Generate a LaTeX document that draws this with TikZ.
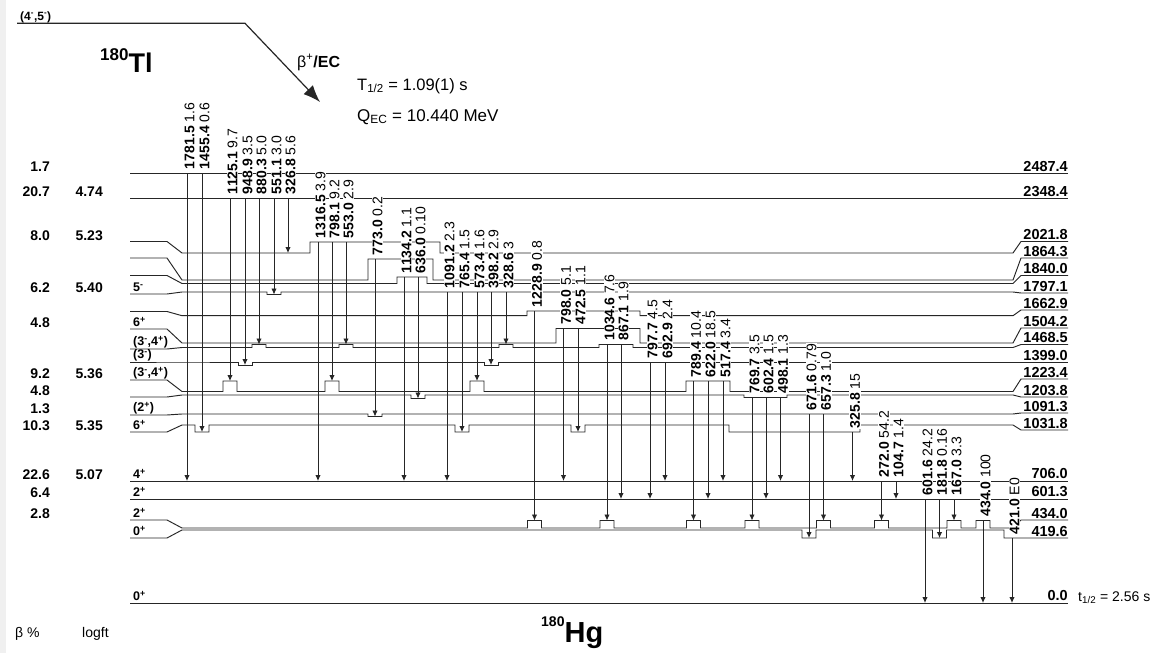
\documentclass[tikz,border=0pt]{standalone}
\usepackage{fontspec}
\setmainfont{Liberation Sans}
\newfontfamily\nar{Liberation Sans}
\usetikzlibrary{arrows.meta}
\newcommand\bmp[3]{-- (#1-7,#2) -- (#1-7,#3) -- (#1+7,#3) -- (#1+7,#2)}
\newcommand\pl{\textsuperscript{+}}
\newcommand\mi{\textsuperscript{-}}
\newcommand\gam[6]{%
  \coordinate (#1a) at (#2,#3);
  \coordinate (#1b) at (#2,#4);
  \node[glab] (#1t) at ([xshift=2.5pt,yshift=3pt]#1a) {\textbf{#5} #6};
  \draw[gline] (#1a) -- (#1b);
}
\begin{document}
\begin{tikzpicture}[x=1pt,y=-1pt,
  lev/.style={line width=0.95pt, draw=black!85},
  gline/.style={line width=0.95pt, draw=black!85, -{Latex[length=6pt,width=5.5pt]}},
  glab/.style={rotate=90, anchor=west, fill=white, inner sep=0.8pt, font=\nar\fontsize{14}{14}\selectfont},
  rlab/.style={anchor=base east, inner sep=0pt, font=\bfseries\fontsize{14.5}{14.5}\selectfont},
  bp/.style={anchor=base east, inner sep=0pt, font=\bfseries\fontsize{14}{14}\selectfont},
  sp/.style={anchor=base west, inner sep=0pt, font=\bfseries\fontsize{12.5}{12.5}\selectfont},
  txt/.style={anchor=base west, inner sep=0pt}]
\useasboundingbox (0,0) rectangle (1157,653);
\fill[white] (0,0) rectangle (1157,653);
\fill[gray!12] (0,0) rectangle (6,653);

% parent
\node[txt, font=\bfseries\fontsize{12}{12}\selectfont] (par) at (20,20) {(4\mi,5\mi)};
\coordinate (p0) at (17,23.3);
\coordinate (p1) at (245,23.3);
\coordinate (p2) at (320,102);
\draw[line width=1.2pt, black!85, -{Latex[length=17pt,width=13pt]}] (p0) -- (p1) -- (p2);
\node[txt] (tl) at (100,72.5) {\bfseries\fontsize{17}{17}\selectfont\raisebox{12pt}{180}\fontsize{27}{27}\selectfont Tl};
\node[txt, font=\fontsize{16}{16}\selectfont] (bec) at (297,67) {β\textsuperscript{+}\textbf{/EC}};
\node[txt, font=\fontsize{16.5}{16.5}\selectfont] (th) at (357,90) {T\textsubscript{1/2} = 1.09(1) s};
\node[txt, font=\fontsize{17}{17}\selectfont] (qec) at (357,121) {Q\textsubscript{EC} = 10.440 MeV};

% levels
\draw[lev] (130,173) -- (1068,173);
\draw[lev] (130,198) -- (1068,198);
\draw[lev] (130,241.5) -- (167,241.5) -- (182,253) -- (310,253) -- (310,242) -- (440,242) -- (440,253) -- (1013,253) -- (1021,241.5) -- (1068,241.5);
\draw[lev] (130,258) -- (167,258) -- (182,280) -- (368,280) -- (368,259) -- (433,259) -- (433,280) -- (1013,280) -- (1021,258) -- (1068,258);
\draw[lev] (130,275.5) -- (167,275.5) -- (182,283.5) -- (397,283.5) -- (397,277) -- (427,277) -- (427,283.5) -- (1013,283.5) -- (1021,275.5) -- (1068,275.5);
\draw[lev] (130,294) -- (167,294) -- (182,292) \bmp{274}{292}{294.5} -- (1013,292) -- (1021,293) -- (1068,293);
\draw[lev] (130,311.5) -- (167,311.5) -- (182,315.7) -- (527,315.7) -- (527,311) -- (640,311) -- (640,315.7) -- (1013,315.7) -- (1021,310) -- (1068,310);
\draw[lev] (130,329) -- (167,329) -- (182,343) -- (556,343) -- (556,328.5) -- (640,328.5) -- (640,343) -- (1013,343) -- (1021,328) -- (1068,328);
\draw[lev] (130,349) -- (167,349) -- (182,347.5) \bmp{259}{347.5}{344.5} \bmp{346}{347.5}{344.5} \bmp{506}{347.5}{344.5} -- (599,347.5) -- (599,344.5) -- (633,344.5) -- (633,347.5) -- (1013,347.5) -- (1021,344.5) -- (1068,344.5);
\draw[lev] (130,362) -- (182,362) \bmp{245}{362}{365} \bmp{491}{362}{365} -- (1068,362);
\draw[lev] (130,380) -- (167,380) -- (182,391.5) \bmp{230}{391.5}{381} \bmp{332}{391.5}{381} \bmp{477}{391.5}{381} -- (686,391.5) -- (686,381) -- (730,381) -- (730,391.5) -- (1013,391.5) -- (1021,379) -- (1068,379);
\draw[lev] (130,397) -- (167,397) -- (182,395) \bmp{418}{395}{398.5} -- (744,395) -- (744,397.5) -- (787,397.5) -- (787,395) -- (1013,395) -- (1021,397) -- (1068,397);
\draw[lev] (130,415) -- (167,415) -- (182,414) \bmp{375}{414}{416.5} -- (1013,414) -- (1021,413) -- (1068,413);
\draw[lev] (130,432) -- (167,432) -- (182,425) \bmp{202}{425}{432} \bmp{462}{425}{432} \bmp{578}{425}{432} -- (729,425) -- (729,432) -- (860,432) -- (860,425) -- (1013,425) -- (1021,430) -- (1068,430);
\draw[lev] (130,481) -- (1068,481);
\draw[lev] (130,499) -- (1068,499);
\draw[lev] (130,520) -- (167,520) -- (182,528) \bmp{534.5}{528}{520.5} \bmp{607}{528}{520.5} \bmp{693.5}{528}{520.5} \bmp{752}{528}{520.5} \bmp{823.5}{528}{520.5} \bmp{881.5}{528}{520.5} \bmp{954}{528}{520.5} \bmp{983}{528}{520.5} -- (1013,528) -- (1021,520) -- (1068,520);
\draw[lev] (130,538) -- (167,538) -- (182,530) \bmp{809}{530}{538} \bmp{939.5}{530}{538} -- (1004,530) -- (1004,538) -- (1068,538);
\draw[lev] (130,603) -- (1068,603);

% right energy labels
\node[rlab] (e1) at (1068,171) {2487.4};
\node[rlab] (e2) at (1068,196) {2348.4};
\node[rlab] (e3) at (1068,239.5) {2021.8};
\node[rlab] (e4) at (1068,256) {1864.3};
\node[rlab] (e5) at (1068,273.5) {1840.0};
\node[rlab] (e6) at (1068,291) {1797.1};
\node[rlab] (e7) at (1068,308) {1662.9};
\node[rlab] (e8) at (1068,326) {1504.2};
\node[rlab] (e9) at (1068,342.5) {1468.5};
\node[rlab] (e10) at (1068,360) {1399.0};
\node[rlab] (e11) at (1068,377) {1223.4};
\node[rlab] (e12) at (1068,395) {1203.8};
\node[rlab] (e13) at (1068,411) {1091.3};
\node[rlab] (e14) at (1068,428) {1031.8};
\node[rlab] (e15) at (1068,478.5) {706.0};
\node[rlab] (e16) at (1068,496.5) {601.3};
\node[rlab] (e17) at (1068,518) {434.0};
\node[rlab] (e18) at (1068,536) {419.6};
\node[rlab] (e19) at (1068,600.5) {0.0};
\node[txt, font=\fontsize{14}{14}\selectfont] (gst) at (1078,601) {t\textsubscript{1/2} = 2.56 s};

% beta feeding and logft
\node[bp] (b1) at (50,171) {1.7};
\node[bp] (b2) at (50,196) {20.7};
\node[bp] (b3) at (50,240) {8.0};
\node[bp] (b4) at (50,292) {6.2};
\node[bp] (b5) at (50,327) {4.8};
\node[bp] (b6) at (50,378.5) {9.2};
\node[bp] (b7) at (50,395.5) {4.8};
\node[bp] (b8) at (50,413) {1.3};
\node[bp] (b9) at (50,430) {10.3};
\node[bp] (b10) at (50,479) {22.6};
\node[bp] (b11) at (50,497) {6.4};
\node[bp] (b12) at (50,518) {2.8};
\node[bp] (f2) at (103,196) {4.74};
\node[bp] (f3) at (103,240) {5.23};
\node[bp] (f4) at (103,292) {5.40};
\node[bp] (f6) at (103,378.5) {5.36};
\node[bp] (f9) at (103,430) {5.35};
\node[bp] (f10) at (103,479) {5.07};
\node[txt, font=\fontsize{14}{14}\selectfont] (bpc) at (15,637) {β \%};
\node[txt, font=\fontsize{14}{14}\selectfont] (lft) at (82,637) {logft};

% spins
\node[sp] (s1) at (133,291.5) {5\mi};
\node[sp] (s2) at (133,326.5) {6\pl};
\node[sp] (s3) at (133,345.5) {(3\mi,4\pl)};
\node[sp] (s4) at (133,358.5) {(3\mi)};
\node[sp] (s5) at (133,376.5) {(3\mi,4\pl)};
\node[sp] (s6) at (133,411.5) {(2\pl)};
\node[sp] (s7) at (133,429.5) {6\pl};
\node[sp] (s8) at (133,478.5) {4\pl};
\node[sp] (s9) at (133,496.5) {2\pl};
\node[sp] (s10) at (133,517.5) {2\pl};
\node[sp] (s11) at (133,535.5) {0\pl};
\node[sp] (s12) at (133,600.5) {0\pl};

\node[txt] (hg) at (541,642) {\bfseries\fontsize{14}{14}\selectfont\raisebox{16pt}{180}\fontsize{29}{29}\selectfont Hg};

% gamma transitions
\gam{a1}{187}{173}{481}{1781.5}{1.6}
\gam{a2}{202}{173}{432}{1455.4}{0.6}
\gam{b1}{230}{198}{381}{1125.1}{9.7}
\gam{b2}{245}{198}{365}{948.9}{3.5}
\gam{b3}{259}{198}{344.5}{880.3}{5.0}
\gam{b4}{274}{198}{294.5}{551.1}{3.0}
\gam{b5}{288}{198}{253}{326.8}{5.6}
\gam{c1}{318}{242}{481}{1316.5}{3.9}
\gam{c2}{332}{242}{381}{798.1}{9.2}
\gam{c3}{346}{242}{344.5}{553.0}{2.9}
\gam{d1}{375}{259}{416.5}{773.0}{0.2}
\gam{e1}{404}{277}{481}{1134.2}{1.1}
\gam{e2}{418}{277}{398.5}{636.0}{0.10}
\gam{f1}{447}{292}{481}{1091.2}{2.3}
\gam{f2}{462}{292}{432}{765.4}{1.5}
\gam{f3}{477}{292}{381}{573.4}{1.6}
\gam{f4}{491}{292}{365}{398.2}{2.9}
\gam{f5}{506}{292}{344.5}{328.6}{3}
\gam{g1}{534.5}{311}{520.5}{1228.9}{0.8}
\gam{h1}{563.5}{328.5}{481}{798.0}{5.1}
\gam{h2}{578}{328.5}{432}{472.5}{1.1}
\gam{i1}{607}{344.5}{520.5}{1034.6}{7.6}
\gam{i2}{621}{344.5}{499}{867.1}{1.9}
\gam{j1}{650}{362}{499}{797.7}{4.5}
\gam{j2}{665}{362}{481}{692.9}{2.4}
\gam{k1}{693.5}{381}{520.5}{789.4}{10.4}
\gam{k2}{708}{381}{499}{622.0}{18.5}
\gam{k3}{723}{381}{481}{517.4}{3.4}
\gam{l1}{752}{397.5}{520.5}{769.7}{3.5}
\gam{l2}{766}{397.5}{499}{602.4}{1.5}
\gam{l3}{780.5}{397.5}{481}{498.1}{1.3}
\gam{m1}{809}{414}{538}{671.6}{0.79}
\gam{m2}{823.5}{414}{520.5}{657.3}{1.0}
\gam{n1}{852.5}{432}{481}{325.8}{15}
\gam{o1}{881.5}{481}{520.5}{272.0}{54.2}
\gam{o2}{896}{481}{499}{104.7}{1.4}
\gam{p1}{925}{499}{603}{601.6}{24.2}
\gam{p2}{939.5}{499}{538}{181.8}{0.16}
\gam{p3}{954}{499}{520.5}{167.0}{3.3}
\gam{q1}{983}{520.5}{603}{434.0}{100}
\gam{r1}{1012}{538}{603}{421.0}{E0}
\end{tikzpicture}
\end{document}
